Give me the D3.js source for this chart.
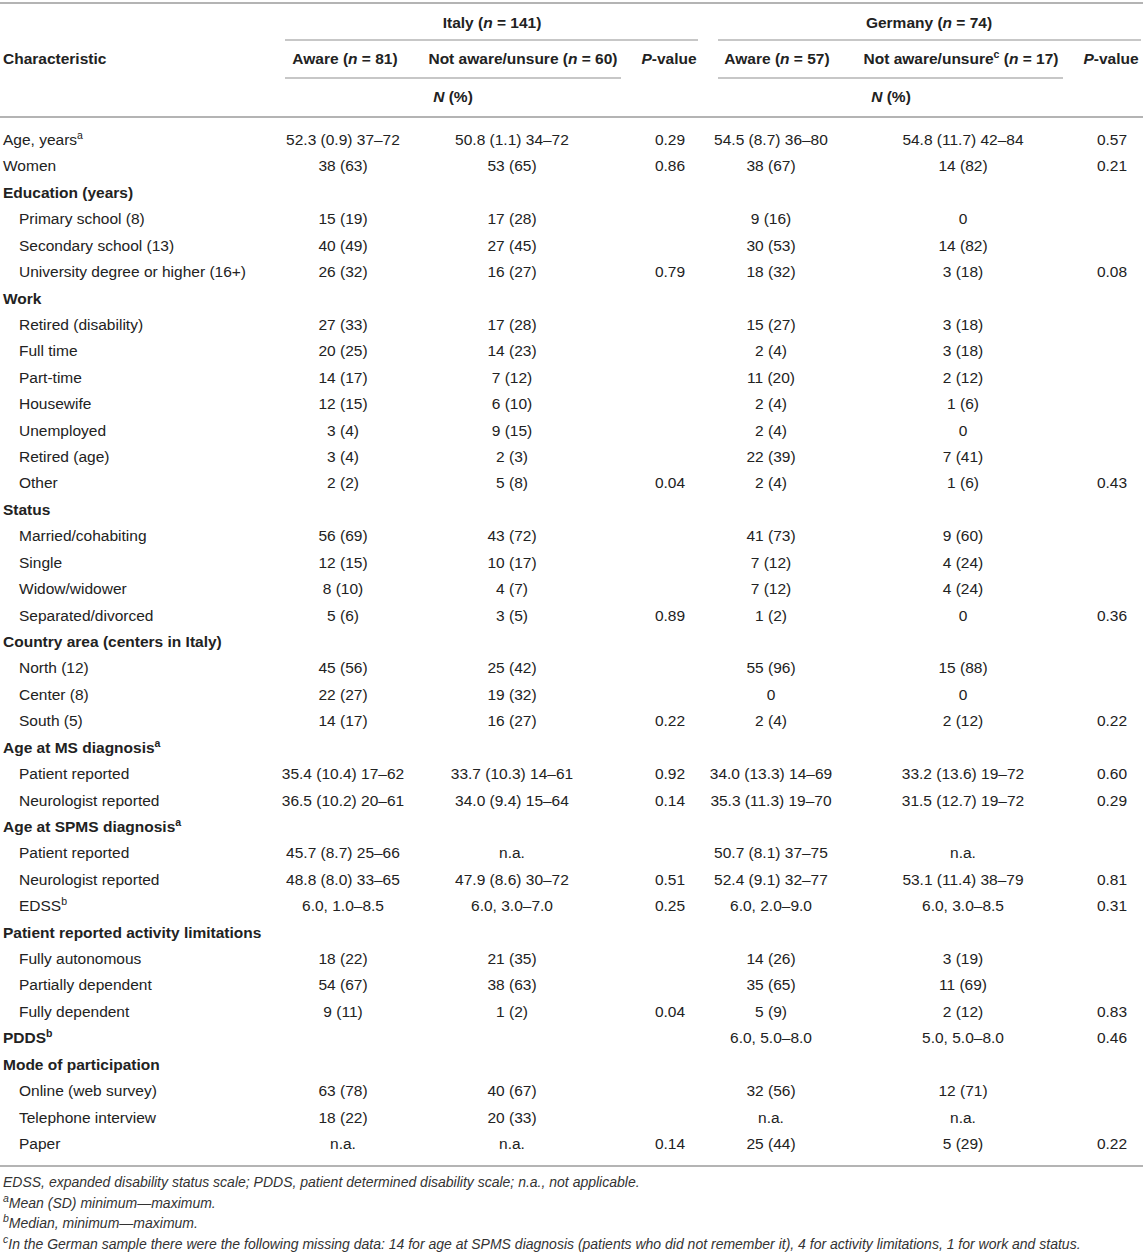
<!DOCTYPE html>
<html lang="en">
<head>
<meta charset="utf-8">
<title>Table</title>
<script src="https://d3js.org/d3.v7.min.js"></script>
<style>
  body { margin: 0; background: #fff; font-family: "Liberation Sans", Arial, sans-serif; }
  svg text { fill: #222; font-size: 15.5px; }
  .bold { font-weight: bold; }
  .note { font-size: 14px; font-style: italic; fill: #333; }
  .rule { stroke: #b4b4b4; stroke-width: 2; }
  .subrule { stroke: #b4b4b4; stroke-width: 1.5; }
</style>
</head>
<body>
<div id="table"></div>
<script>
// row labels, "^x" marks a superscript; kind: h = section header, s = indented, p = plain
var labels = [
  "Age, years^a", "Women", "Education (years)", "Primary school (8)", "Secondary school (13)",
  "University degree or higher (16+)", "Work", "Retired (disability)", "Full time", "Part-time",
  "Housewife", "Unemployed", "Retired (age)", "Other", "Status", "Married/cohabiting", "Single",
  "Widow/widower", "Separated/divorced", "Country area (centers in Italy)", "North (12)", "Center (8)",
  "South (5)", "Age at MS diagnosis^a", "Patient reported", "Neurologist reported",
  "Age at SPMS diagnosis^a", "Patient reported", "Neurologist reported", "EDSS^b",
  "Patient reported activity limitations", "Fully autonomous", "Partially dependent",
  "Fully dependent", "PDDS^b", "Mode of participation", "Online (web survey)",
  "Telephone interview", "Paper"
];
var kinds = [
  "p", "p", "h", "s", "s", "s", "h", "s", "s", "s", "s", "s", "s", "s", "h", "s", "s", "s", "s",
  "h", "s", "s", "s", "h", "s", "s", "h", "s", "s", "s", "h", "s", "s", "s", "h", "h", "s", "s", "s"
];
var italyAware = [
  "52.3 (0.9) 37–72", "38 (63)", "", "15 (19)", "40 (49)", "26 (32)", "", "27 (33)", "20 (25)",
  "14 (17)", "12 (15)", "3 (4)", "3 (4)", "2 (2)", "", "56 (69)", "12 (15)", "8 (10)", "5 (6)", "",
  "45 (56)", "22 (27)", "14 (17)", "", "35.4 (10.4) 17–62", "36.5 (10.2) 20–61", "", "45.7 (8.7) 25–66",
  "48.8 (8.0) 33–65", "6.0, 1.0–8.5", "", "18 (22)", "54 (67)", "9 (11)", "", "", "63 (78)", "18 (22)", "n.a."
];
var italyNot = [
  "50.8 (1.1) 34–72", "53 (65)", "", "17 (28)", "27 (45)", "16 (27)", "", "17 (28)", "14 (23)",
  "7 (12)", "6 (10)", "9 (15)", "2 (3)", "5 (8)", "", "43 (72)", "10 (17)", "4 (7)", "3 (5)", "",
  "25 (42)", "19 (32)", "16 (27)", "", "33.7 (10.3) 14–61", "34.0 (9.4) 15–64", "", "n.a.",
  "47.9 (8.6) 30–72", "6.0, 3.0–7.0", "", "21 (35)", "38 (63)", "1 (2)", "", "", "40 (67)", "20 (33)", "n.a."
];
var italyP = [
  "0.29", "0.86", "", "", "", "0.79", "", "", "", "", "", "", "", "0.04", "", "", "", "", "0.89", "",
  "", "", "0.22", "", "0.92", "0.14", "", "", "0.51", "0.25", "", "", "", "0.04", "", "", "", "", "0.14"
];
var germanyAware = [
  "54.5 (8.7) 36–80", "38 (67)", "", "9 (16)", "30 (53)", "18 (32)", "", "15 (27)", "2 (4)",
  "11 (20)", "2 (4)", "2 (4)", "22 (39)", "2 (4)", "", "41 (73)", "7 (12)", "7 (12)", "1 (2)", "",
  "55 (96)", "0", "2 (4)", "", "34.0 (13.3) 14–69", "35.3 (11.3) 19–70", "", "50.7 (8.1) 37–75",
  "52.4 (9.1) 32–77", "6.0, 2.0–9.0", "", "14 (26)", "35 (65)", "5 (9)", "6.0, 5.0–8.0", "", "32 (56)", "n.a.", "25 (44)"
];
var germanyNot = [
  "54.8 (11.7) 42–84", "14 (82)", "", "0", "14 (82)", "3 (18)", "", "3 (18)", "3 (18)",
  "2 (12)", "1 (6)", "0", "7 (41)", "1 (6)", "", "9 (60)", "4 (24)", "4 (24)", "0", "",
  "15 (88)", "0", "2 (12)", "", "33.2 (13.6) 19–72", "31.5 (12.7) 19–72", "", "n.a.",
  "53.1 (11.4) 38–79", "6.0, 3.0–8.5", "", "3 (19)", "11 (69)", "2 (12)", "5.0, 5.0–8.0", "", "12 (71)", "n.a.", "5 (29)"
];
var germanyP = [
  "0.57", "0.21", "", "", "", "0.08", "", "", "", "", "", "", "", "0.43", "", "", "", "", "0.36", "",
  "", "", "0.22", "", "0.60", "0.29", "", "", "0.81", "0.31", "", "", "", "0.83", "0.46", "", "", "", "0.22"
];
var footnotes = [
  "EDSS, expanded disability status scale; PDDS, patient determined disability scale; n.a., not applicable.",
  "^aMean (SD) minimum—maximum.",
  "^bMedian, minimum—maximum.",
  "^cIn the German sample there were the following missing data: 14 for age at SPMS diagnosis (patients who did not remember it), 4 for activity limitations, 1 for work and status."
];

var width = 1143, height = 1253;
var svg = d3.select("#table").append("svg")
  .attr("width", width).attr("height", height);

var columns = ["itA", "itN", "itP", "deA", "deN", "deP"];
var colData = [italyAware, italyNot, italyP, germanyAware, germanyNot, germanyP];
var xData = d3.scaleOrdinal().domain(columns).range([343, 512, 670, 771, 963, 1112]);
var xHead = d3.scaleOrdinal().domain(columns).range([345, 523, 669, 777, 961, 1111]);
var y = d3.scaleLinear().domain([0, labels.length - 1]).range([140, 1144]);

// write text with "^x" superscripts and "*x*" italics
function rich(sel, str) {
  var parts = str.split(/(\^[a-z]|\*[^*]+\*)/).filter(function(p) { return p !== ""; });
  parts.forEach(function(p) {
    if (p[0] === "^") {
      sel.append("tspan").attr("font-size", "0.68em").attr("baseline-shift", "super").text(p.slice(1));
    } else if (p[0] === "*") {
      sel.append("tspan").attr("font-style", "italic").text(p.slice(1, -1));
    } else {
      sel.append("tspan").text(p);
    }
  });
}

// rules
svg.append("line").attr("class", "rule").attr("x1", 0).attr("x2", width).attr("y1", 3).attr("y2", 3);
svg.append("line").attr("class", "rule").attr("x1", 0).attr("x2", width).attr("y1", 117).attr("y2", 117);
svg.append("line").attr("class", "rule").attr("x1", 0).attr("x2", width).attr("y1", 1166).attr("y2", 1166);
[[285, 698, 40], [718, 1141, 40], [285, 621, 78], [718, 1063, 78]].forEach(function(s) {
  svg.append("line").attr("class", "subrule")
    .attr("x1", s[0]).attr("x2", s[1]).attr("y1", s[2]).attr("y2", s[2]);
});

// header
var head = svg.append("g");
function headText(x, yy, str, anchor) {
  var t = head.append("text").attr("class", "bold").attr("x", x).attr("y", yy)
    .attr("text-anchor", anchor || "middle");
  rich(t, str);
}
headText(492, 28, "Italy (*n* = 141)");
headText(929, 28, "Germany (*n* = 74)");
headText(3, 64, "Characteristic", "start");
var headLabels = ["Aware (*n* = 81)", "Not aware/unsure (*n* = 60)", "*P*-value",
  "Aware (*n* = 57)", "Not aware/unsure^c (*n* = 17)", "*P*-value"];
columns.forEach(function(c, i) { headText(xHead(c), 64, headLabels[i]); });
headText(453, 102, "*N* (%)");
headText(891, 102, "*N* (%)");

// body rows, bound to row index
var rows = svg.append("g").selectAll("g").data(d3.range(labels.length)).join("g")
  .attr("transform", function(i) { return "translate(0," + (y(i) + 5) + ")"; });

rows.append("text")
  .attr("x", function(i) { return kinds[i] === "s" ? 19 : 3; })
  .attr("class", function(i) { return kinds[i] === "h" ? "bold" : null; })
  .each(function(i) { rich(d3.select(this), labels[i]); });

columns.forEach(function(c, ci) {
  rows.filter(function(i) { return colData[ci][i] !== ""; })
    .append("text")
    .attr("x", xData(c))
    .attr("text-anchor", "middle")
    .text(function(i) { return colData[ci][i]; });
});

// footnotes
var yNote = d3.scaleLinear().domain([0, footnotes.length - 1]).range([1187, 1249]);
svg.append("g").selectAll("text").data(footnotes).join("text")
  .attr("class", "note")
  .attr("x", 3)
  .attr("y", function(d, i) { return yNote(i); })
  .each(function(d) {
    var t = d3.select(this);
    if (d[0] === "^") {
      t.append("tspan").attr("font-size", "0.75em").attr("baseline-shift", "super").text(d[1]);
      t.append("tspan").text(d.slice(2));
    } else {
      t.text(d);
    }
  });
</script>
</body>
</html>
